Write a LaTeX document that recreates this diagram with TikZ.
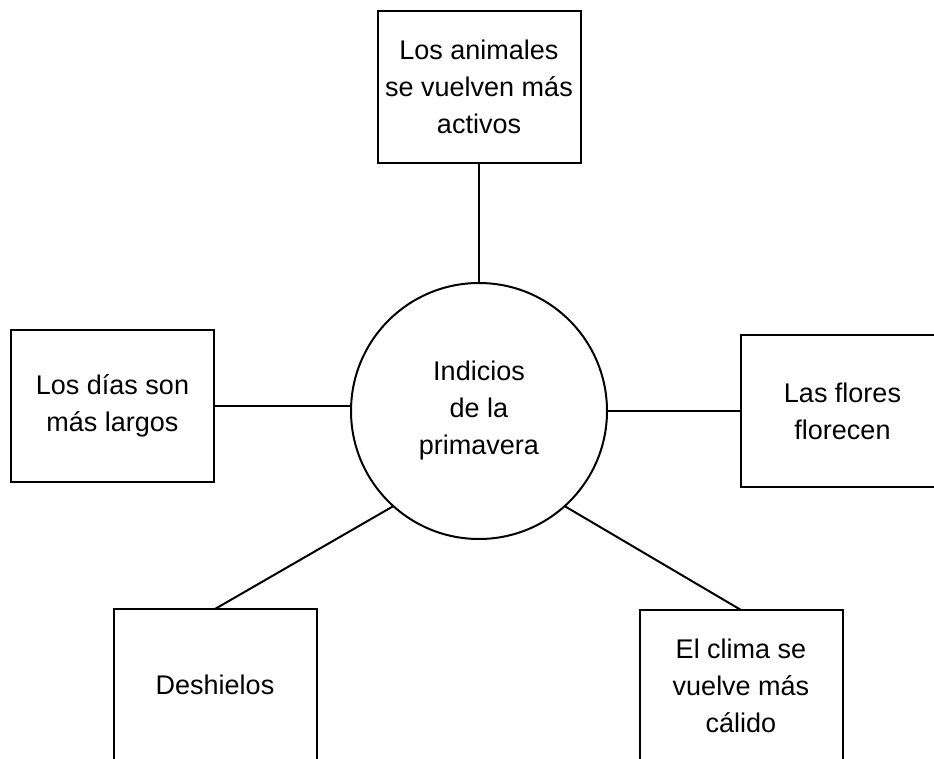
\documentclass[tikz,border=0pt]{standalone}
\usepackage{fontspec}
\setmainfont{Liberation Sans}
\usetikzlibrary{positioning}

\tikzset{
	signbox/.style={draw, line width=2pt, minimum width=203pt, minimum height=152pt, inner sep=0pt, outer sep=0pt, align=center, font=\fontsize{27}{37}\selectfont},
	topic/.style={draw, circle, line width=2pt, minimum size=256pt, inner sep=0pt, outer sep=0pt, align=center, font=\fontsize{27}{37}\selectfont},
	link/.style={line width=2pt}
}

\begin{document}
\begin{tikzpicture}[x=1pt, y=-1pt]
	\useasboundingbox (0,0) rectangle (934,759);
	\clip (0,0) rectangle (934,759);
	\node[topic] (spring) at (479,411) {Indicios\\de la\\primavera};
	\node[signbox, above=120pt of spring] (animals) {Los animales\\se vuelven más\\activos};
	\node[signbox, left=137pt of spring, yshift=5pt] (days) {Los días son\\más largos};
	\node[signbox, right=134pt of spring] (flowers) {Las flores\\florecen};
	\node[signbox, below=70pt of spring, xshift=-264pt] (thaw) {Deshielos};
	\node[signbox, below=71pt of spring, xshift=262pt] (warm) {El clima se\\vuelve más\\cálido};
	\draw[link] (animals.south) -- (animals.south |- spring.north);
	\draw[link] (days.east) -- (days.east -| spring.west);
	\draw[link] (spring.east) -- (flowers.west);
	\draw[link] (spring.-132) -- (thaw.north);
	\draw[link] (spring.-48) -- (warm.north);
\end{tikzpicture}
\end{document}
